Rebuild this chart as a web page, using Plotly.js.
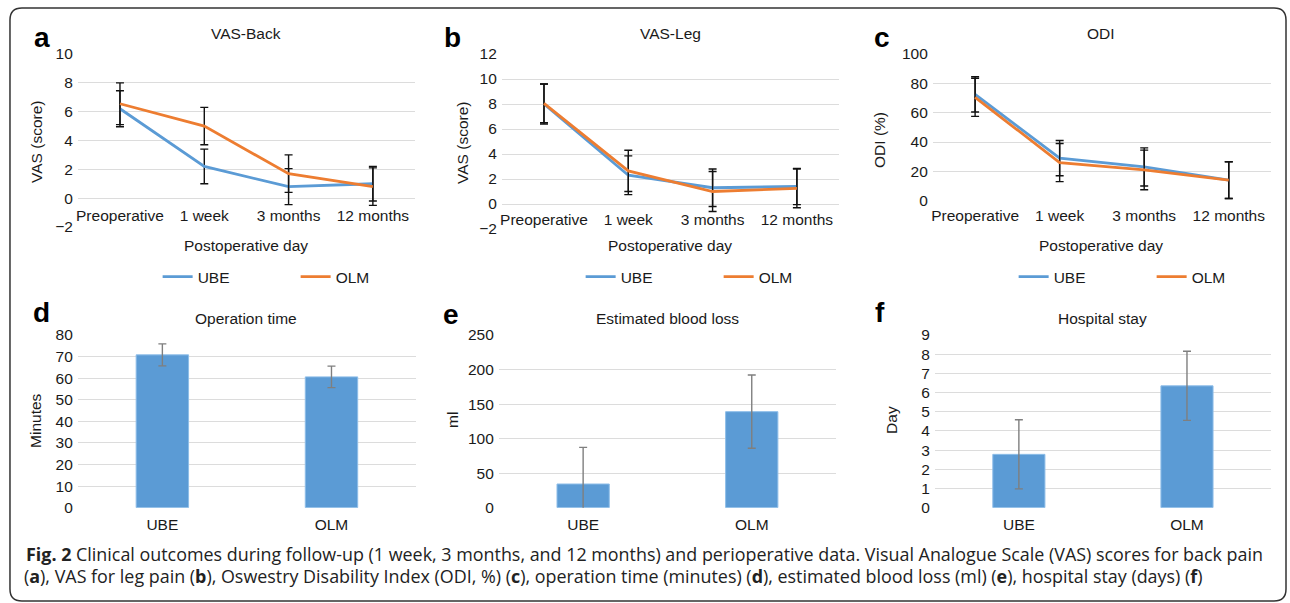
<!DOCTYPE html>
<html>
<head>
<meta charset="utf-8">
<script src="https://cdn.plot.ly/plotly-3.0.1.min.js"></script>
<style>
html,body{margin:0;padding:0;background:#fff;}
#chart{width:1290px;height:603px;}
</style>
</head>
<body>
<div id="chart"></div>
<script>
// ---------- data ----------
const timepoints = ['Preoperative', '1 week', '3 months', '12 months'];

const vasBackUBE = [6.2, 2.2, 0.8, 1.0];
const vasBackUBEErr = [1.25, 1.2, 1.25, 1.2];
const vasBackOLM = [6.55, 5.0, 1.7, 0.8];
const vasBackOLMErr = [1.45, 1.3, 1.3, 1.3];

const vasLegUBE = [8.0, 2.3, 1.3, 1.4];
const vasLegUBEErr = [1.6, 1.55, 1.5, 1.45];
const vasLegOLM = [8.05, 2.65, 1.0, 1.25];
const vasLegOLMErr = [1.55, 1.65, 1.6, 1.55];

const odiUBE = [72.5, 29, 23, 14];
const odiUBEErr = [12, 12, 13, 12.5];
const odiOLM = [70.5, 26, 21, 14];
const odiOLMErr = [13, 13, 13.5, 12.5];

const groups = ['UBE', 'OLM'];
const operationTime = [70.8, 60.6];
const operationTimeErr = [5.1, 5.0];
const bloodLoss = [34.3, 139];
const bloodLossErr = [53, 53];
const hospitalStay = [2.78, 6.35];
const hospitalStayErr = [1.8, 1.8];

const captionLine1 = '<b>Fig. 2</b> Clinical outcomes during follow-up (1 week, 3 months, and 12 months) and perioperative data. Visual Analogue Scale (VAS) scores for back pain';
const captionLine2 = '(<b>a</b>), VAS for leg pain (<b>b</b>), Oswestry Disability Index (ODI, %) (<b>c</b>), operation time (minutes) (<b>d</b>), estimated blood loss (ml) (<b>e</b>), hospital stay (days) (<b>f</b>)';

// ---------- styling / geometry ----------
const W = 1290, H = 603;
const px = v => v / W;
const py = v => 1 - v / H;
const FONT = '"Liberation Sans", Arial, Helvetica, sans-serif';
const TXT = '#1a1a1a';
const GRID = '#dcdcdc';
const C_UBE = '#5b9bd5';
const C_OLM = '#ed7d31';
const FS = 15.5;

function lineTrace(y, err, name, color, xa, ya, legend, showlegend) {
  return {
    type: 'scatter', mode: 'lines', x: timepoints, y: y, name: name,
    xaxis: xa, yaxis: ya, legend: legend, showlegend: showlegend,
    line: {color: color, width: 2.8},
    error_y: {type: 'data', array: err, visible: true, color: '#111', thickness: 1.4, width: 4},
    hoverinfo: 'skip'
  };
}
function barTrace(y, err, xa, ya) {
  return {
    type: 'bar', x: groups, y: y, xaxis: xa, yaxis: ya, showlegend: false,
    marker: {color: C_UBE, line: {color: '#8dbde8', width: 1}},
    error_y: {type: 'data', array: err, visible: true, color: '#7f7f7f', thickness: 1.4, width: 4},
    hoverinfo: 'skip'
  };
}

const data = [
  lineTrace(vasBackUBE, vasBackUBEErr, 'UBE', C_UBE, 'x', 'y', 'legend', true),
  lineTrace(vasBackOLM, vasBackOLMErr, 'OLM', C_OLM, 'x', 'y', 'legend', true),
  lineTrace(vasLegUBE, vasLegUBEErr, 'UBE', C_UBE, 'x2', 'y2', 'legend2', true),
  lineTrace(vasLegOLM, vasLegOLMErr, 'OLM', C_OLM, 'x2', 'y2', 'legend2', true),
  lineTrace(odiUBE, odiUBEErr, 'UBE', C_UBE, 'x3', 'y3', 'legend3', true),
  lineTrace(odiOLM, odiOLMErr, 'OLM', C_OLM, 'x3', 'y3', 'legend3', true),
  barTrace(operationTime, operationTimeErr, 'x4', 'y4'),
  barTrace(bloodLoss, bloodLossErr, 'x5', 'y5'),
  barTrace(hospitalStay, hospitalStayErr, 'x6', 'y6')
];

function xAx(l, r, opts) {
  return Object.assign({
    domain: [px(l), px(r)], type: 'category', showgrid: false, showline: false,
    zeroline: false, ticks: '', tickfont: {size: FS, color: TXT}, fixedrange: true
  }, opts);
}
function yAx(t, b, range, dtick, anchor) {
  return {
    domain: [py(b), py(t)], anchor: anchor, range: range, dtick: dtick,
    showgrid: true, gridcolor: GRID, gridwidth: 1, zeroline: false, showline: false,
    ticks: '', tickfont: {size: FS, color: TXT}, ticklabelstandoff: 4, fixedrange: true
  };
}

const legendBase = {
  orientation: 'h', xanchor: 'left', yanchor: 'middle', entrywidth: 93, entrywidthmode: 'pixels',
  font: {size: FS, color: TXT}, bgcolor: 'rgba(0,0,0,0)', borderwidth: 0, itemclick: false, itemdoubleclick: false
};

const annotations = [];
function addText(text, x, y, size, opts) {
  annotations.push(Object.assign({
    text: text, xref: 'paper', yref: 'paper', x: px(x), y: py(y), showarrow: false,
    xanchor: 'center', yanchor: 'middle', font: {size: size, color: TXT}
  }, opts || {}));
}
// panel titles
addText('VAS-Back', 247, 34, FS);
addText('VAS-Leg', 672, 34, FS);
addText('ODI', 1104, 34, FS);
addText('Operation time', 247, 318, FS);
addText('Estimated blood loss', 669, 318, FS);
addText('Hospital stay', 1105, 318, FS);
// panel letters
const letterFont = {size: 28, color: '#000', family: FONT};
[['a', 42, 37], ['b', 454, 37], ['c', 884, 37], ['d', 42, 312], ['e', 452, 314], ['f', 882, 312]].forEach(l => {
  addText('<b>' + l[0] + '</b>', l[1], l[2], 28, {font: letterFont});
});
// axis titles
addText('Postoperative day', 247, 245, FS);
addText('Postoperative day', 672, 245, FS);
addText('Postoperative day', 1104, 245, FS);
addText('VAS (score)', 36, 142, FS, {textangle: -90});
addText('VAS (score)', 463, 143, FS, {textangle: -90});
addText('ODI (%)', 881, 140, FS, {textangle: -90});
addText('Minutes', 35, 420, FS, {textangle: -90});
addText('ml', 453, 420, FS, {textangle: -90});
addText('Day', 893, 420, FS, {textangle: -90});
// caption
const capFont = {size: 17.9, color: '#222', family: '"Open Sans", "Noto Sans", sans-serif'};
addText(captionLine1, 24, 554, 17.9, {xanchor: 'left', font: capFont});
addText(captionLine2, 22, 576, 17.9, {xanchor: 'left', font: capFont});

// rounded border
const L = px(10), R = px(1289), T = py(8), B = py(601);
const rx = 12 / W, ry = 12 / H;
const borderPath = `M ${L + rx},${T} L ${R - rx},${T} Q ${R},${T} ${R},${T - ry} L ${R},${B + ry} Q ${R},${B} ${R - rx},${B} L ${L + rx},${B} Q ${L},${B} ${L},${B + ry} L ${L},${T - ry} Q ${L},${T} ${L + rx},${T} Z`;

const layout = {
  width: W, height: H,
  margin: {l: 0, r: 0, t: 0, b: 0, pad: 0},
  paper_bgcolor: '#ffffff', plot_bgcolor: 'rgba(0,0,0,0)',
  font: {family: FONT, size: FS, color: TXT},
  bargap: 0.69,
  hovermode: false,
  xaxis: xAx(78, 416, {anchor: 'free', position: py(198), range: [-0.5, 3.5], ticklabelstandoff: 6}),
  yaxis: yAx(54, 227, [-2, 10], 2, 'x'),
  xaxis2: xAx(503, 841, {anchor: 'free', position: py(204), range: [-0.5, 3.5], ticklabelstandoff: 4}),
  yaxis2: yAx(54, 229, [-2, 12], 2, 'x2'),
  xaxis3: xAx(935, 1274, {anchor: 'y3', range: [-0.5, 3.5], ticklabelstandoff: 4}),
  yaxis3: yAx(54, 200.7, [0, 100], 20, 'x3'),
  xaxis4: xAx(78, 417, {anchor: 'y4', range: [-0.5, 1.5], ticklabelstandoff: 6}),
  yaxis4: yAx(335, 507.7, [0, 80], 10, 'x4'),
  xaxis5: xAx(500, 838, {anchor: 'y5', range: [-0.5, 1.5], ticklabelstandoff: 6}),
  yaxis5: yAx(335, 507.7, [0, 250], 50, 'x5'),
  xaxis6: xAx(937, 1274, {anchor: 'y6', range: [-0.5, 1.5], ticklabelstandoff: 6}),
  yaxis6: yAx(335, 507.7, [0, 9], 1, 'x6'),
  legend: Object.assign({x: px(158), y: py(277)}, legendBase),
  legend2: Object.assign({x: px(582), y: py(277)}, legendBase),
  legend3: Object.assign({x: px(1016), y: py(277)}, legendBase),
  annotations: annotations,
  shapes: [{type: 'path', xref: 'paper', yref: 'paper', path: borderPath, line: {color: '#333', width: 1.5}, fillcolor: 'rgba(0,0,0,0)', layer: 'below'}]
};

Plotly.newPlot('chart', data, layout, {displayModeBar: false, staticPlot: true});
</script>
</body>
</html>
